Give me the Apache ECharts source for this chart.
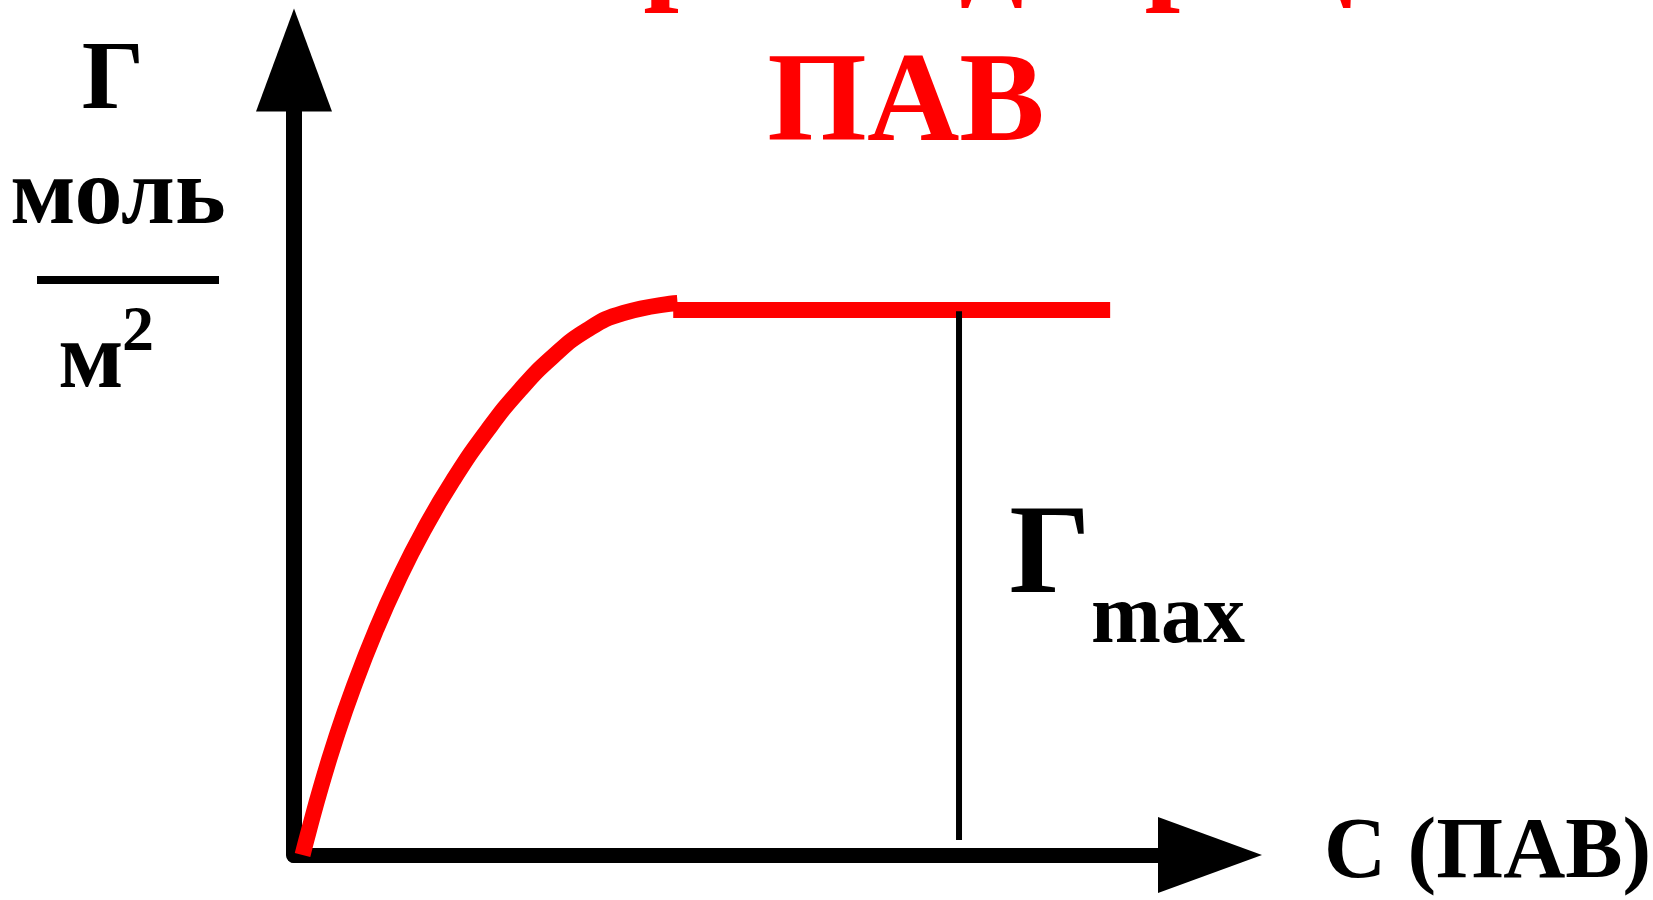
<!DOCTYPE html>
<html>
<head>
<meta charset="utf-8">
<script src="https://cdn.jsdelivr.net/npm/echarts@6/dist/echarts.min.js"></script>
<style>html,body{margin:0;padding:0;background:#fff}#c{width:1653px;height:900px}</style>
</head>
<body>
<div id="c"></div>
<script>
// Adsorption isotherm (schematic), values in axis units 0..100
const curveX = [0.93, 1.64, 2.94, 4.51, 6.51, 8.95, 11.39, 14.17, 17.38, 21.14, 24.67, 28.21, 31.99, 35.97, 41.87];
const curveY = [0, 3.14, 8.55, 14.47, 21.13, 28.30, 34.59, 40.88, 47.17, 53.46, 58.49, 62.64, 66.04, 68.18, 69.43];
const plateauX = [41.4, 89.1];
const plateauY = [68.55, 68.55];
const gmaxX = [72.6, 72.6];
const gmaxY = [1.9, 68.4];
const titleLines = ['Изотерма адсорбции', 'ПАВ'];
const xName = 'С (ПАВ)';
const yName = ['Г', 'моль', 'м', '2'];
const gmaxLabel = ['Г', 'max'];

const pairs = (xs, ys) => xs.map((x, i) => [x, ys[i]]);
const F = 'Liberation Serif, Times New Roman, serif';
const txt = (s, x, y, size, color, align) => ({
  type: 'text', x: x, y: y, silent: true,
  style: { text: s, font: 'bold ' + size + 'px ' + F, fill: color, textAlign: align || 'center', textVerticalAlign: 'middle' }
});

const chart = echarts.init(document.getElementById('c'), null, { renderer: 'canvas' });
chart.setOption({
  animation: false,
  backgroundColor: '#fff',
  grid: { left: 294, right: 443, top: 60, bottom: 45, containLabel: false, outerBoundsMode: 'none' },
  xAxis: {
    type: 'value', min: 0, max: 100,
    name: xName, nameLocation: 'end', nameGap: 114,
    nameTextStyle: { fontFamily: F, fontWeight: 'bold', fontSize: 86, color: '#000', align: 'left', verticalAlign: 'middle', padding: [36, 0, 0, 0] },
    axisLine: { show: true, symbol: ['none', 'triangle'], symbolSize: [76, 104], lineStyle: { color: '#000', width: 15 } },
    axisTick: { show: false }, axisLabel: { show: false }, splitLine: { show: false }
  },
  yAxis: {
    type: 'value', min: 0, max: 100,
    axisLine: { show: true, symbol: ['none', 'triangle'], symbolSize: [76, 103], lineStyle: { color: '#000', width: 16 } },
    axisTick: { show: false }, axisLabel: { show: false }, splitLine: { show: false }
  },
  series: [
    { type: 'line', data: pairs(curveX, curveY), smooth: 0.5, symbol: 'none',
      lineStyle: { color: '#ff0000', width: 16, cap: 'butt' }, z: 3 },
    { type: 'line', data: pairs(plateauX, plateauY), symbol: 'none',
      lineStyle: { color: '#ff0000', width: 16, cap: 'butt' }, z: 3 },
    { type: 'line', data: pairs(gmaxX, gmaxY), symbol: 'none',
      lineStyle: { color: '#000', width: 6, cap: 'butt' }, z: 4 }
  ],
  graphic: [
    txt(titleLines[0], 906, -47, 128, '#ff0000'),
    txt(titleLines[1], 906, 107, 128, '#ff0000'),
    txt(yName[0], 113, 83, 98, '#000'),
    txt(yName[1], 118, 198, 96, '#000'),
    { type: 'rect', shape: { x: 37, y: 276, width: 182, height: 8 }, style: { fill: '#000' }, silent: true },
    txt(yName[2], 91, 362, 96, '#000'),
    txt(yName[3], 138, 333, 64, '#000'),
    txt(gmaxLabel[0], 1050, 559, 128, '#000'),
    txt(gmaxLabel[1], 1168, 620, 84, '#000')
  ]
});
</script>
</body>
</html>
